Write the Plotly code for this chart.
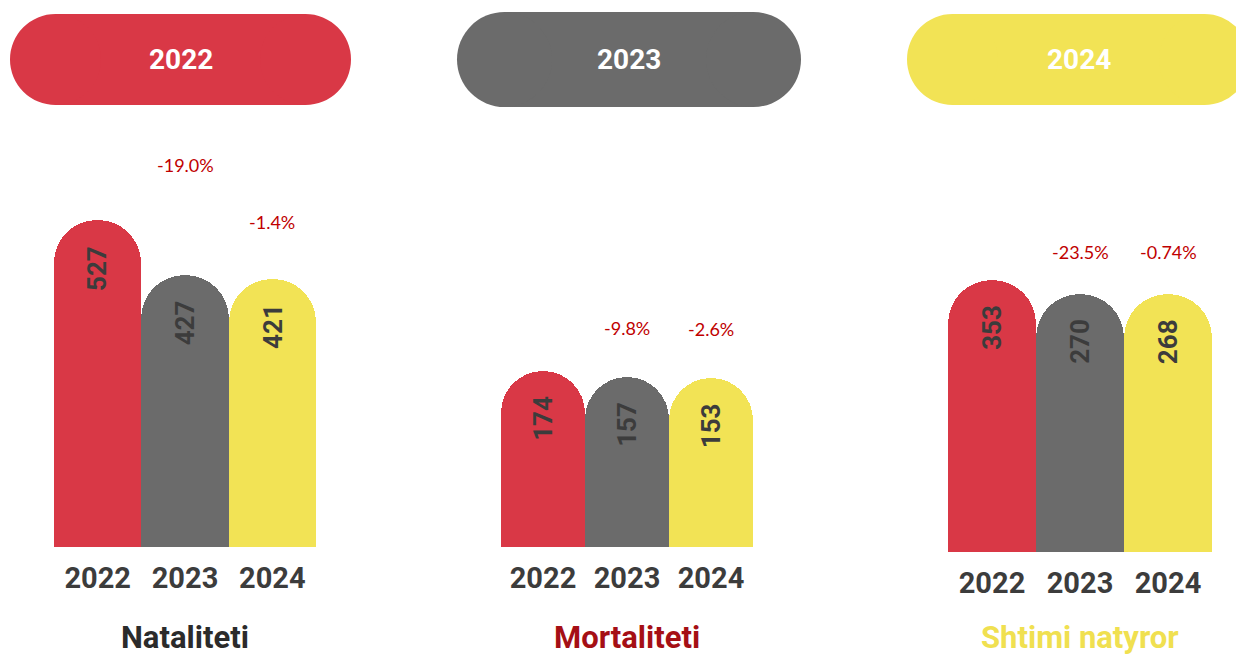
import plotly.graph_objects as go

# data
YEARS = ["2022", "2023", "2024"]
NATALITETI = [527, 427, 421]
MORTALITETI = [174, 157, 153]
SHTIMI_NATYROR = [353, 270, 268]
PCT_NATALITETI = ["-19.0%", "-1.4%"]
PCT_MORTALITETI = ["-9.8%", "-2.6%"]
PCT_SHTIMI = ["-23.5%", "-0.74%"]
PANEL_TITLES = ["Nataliteti", "Mortaliteti", "Shtimi natyror"]
HEADER_YEARS = ["2022", "2023", "2024"]

W, H = 1236, 657
RED, GRAY, YELLOW = "#D93846", "#6B6B6B", "#F2E355"
BAR_COLORS = [RED, GRAY, YELLOW]
TITLE_COLORS = ["#2B2B2B", "#A50F15", "#F0E050"]
COND = "Roboto, sans-serif"
PCT_FONT = "Lato, Open Sans, sans-serif"
TEXT_DARK = "#3C3C3C"


def fx(p):
    return p / W


def fy(p):
    return 1 - p / H


# panel layout in pixels: bar span, baseline, axis floor, px per unit
panels = [
    dict(values=NATALITETI, pct=PCT_NATALITETI, x0=54, x1=316, base=547,
         floor=-67, ppu=0.55, shifts=[110, 57]),
    dict(values=MORTALITETI, pct=PCT_MORTALITETI, x0=501, x1=753, base=547,
         floor=-325, ppu=0.353, shifts=[49, 49]),
    dict(values=SHTIMI_NATYROR, pct=PCT_SHTIMI, x0=948, x1=1212, base=552,
         floor=-1264, ppu=0.1683, shifts=[42, 42]),
]
AXIS_TOP = 140

fig = go.Figure()
layout = {}
annotations = []
for i, p in enumerate(panels):
    n = "" if i == 0 else str(i + 1)
    floor = p["floor"]
    ceil = floor + (p["base"] - AXIS_TOP) / p["ppu"]
    # bars start well below the visible range so only the top end is rounded
    start = floor - 3000
    fig.add_trace(go.Bar(
        x=YEARS,
        y=[v - start for v in p["values"]],
        base=start,
        xaxis="x" + n,
        yaxis="y" + n,
        marker=dict(color=BAR_COLORS, cornerradius="50%", line=dict(width=0)),
        hoverinfo="skip",
        showlegend=False,
    ))
    layout["xaxis" + n] = dict(
        type="category",
        range=[-0.5, 2.5],
        domain=[fx(p["x0"]), fx(p["x1"])],
        anchor="y" + n,
        showgrid=False, zeroline=False, showline=False, ticks="",
        ticklabelstandoff=11,
        tickangle=0,
        automargin=False,
        tickfont=dict(family=COND, size=29, color=TEXT_DARK, weight="bold"),
        fixedrange=True,
    )
    layout["yaxis" + n] = dict(
        domain=[fy(p["base"]), fy(AXIS_TOP)],
        anchor="x" + n,
        range=[floor, ceil],
        visible=False,
        automargin=False,
        fixedrange=True,
    )
    # value labels, rotated, inside the top of each bar
    # (category index used for x so "2022" is not read as an index)
    for j, v in enumerate(p["values"]):
        annotations.append(dict(
            x=j, y=v, xref="x" + n, yref="y" + n,
            text=str(v), showarrow=False, textangle=-90,
            xanchor="center", yanchor="middle", yshift=-48,
            font=dict(family=COND, size=26, color=TEXT_DARK, weight="bold"),
        ))
    # percent change labels over the 2nd and 3rd bars
    for j, label in enumerate(p["pct"]):
        annotations.append(dict(
            x=j + 1, y=p["values"][j + 1],
            xref="x" + n, yref="y" + n,
            text=label, showarrow=False, yanchor="middle",
            yshift=p["shifts"][j],
            font=dict(family=PCT_FONT, size=18, color="#C00000"),
        ))
    # panel title under the year labels
    annotations.append(dict(
        x=fx((p["x0"] + p["x1"]) / 2), y=fy(637), xref="paper", yref="paper",
        text=PANEL_TITLES[i], showarrow=False,
        xanchor="center", yanchor="middle",
        font=dict(family=COND, size=31, color=TITLE_COLORS[i], weight="bold"),
    ))

# pill-shaped year headers
shapes = []
pills = [(10, 351, 14, 105), (457, 801, 12, 107), (907, 1250, 14, 105)]
for (x0, x1, y0, y1), color, label in zip(pills, BAR_COLORS, HEADER_YEARS):
    r = (y1 - y0) / 2
    shapes.append(dict(type="rect", xref="paper", yref="paper",
                       x0=fx(x0 + r), x1=fx(x1 - r), y0=fy(y1), y1=fy(y0),
                       fillcolor=color, line=dict(width=0), layer="below"))
    for cx in (x0 + r, x1 - r):
        shapes.append(dict(type="circle", xref="paper", yref="paper",
                           x0=fx(cx - r), x1=fx(cx + r), y0=fy(y1), y1=fy(y0),
                           fillcolor=color, line=dict(width=0), layer="below"))
    annotations.append(dict(
        x=fx((x0 + x1) / 2), y=fy((y0 + y1) / 2), xref="paper", yref="paper",
        text=label, showarrow=False, xanchor="center", yanchor="middle",
        font=dict(family=COND, size=28, color="white", weight="bold"),
    ))

fig.update_layout(
    width=W, height=H,
    margin=dict(l=0, r=0, t=0, b=0, autoexpand=False),
    paper_bgcolor="white", plot_bgcolor="white",
    bargap=0,
    shapes=shapes,
    annotations=annotations,
    **layout,
)

# drop the page's default body margin so the figure sits at the window corner
fig.write_html("out.html", config={"displayModeBar": False},
               post_script="document.body.style.margin = '0';")
